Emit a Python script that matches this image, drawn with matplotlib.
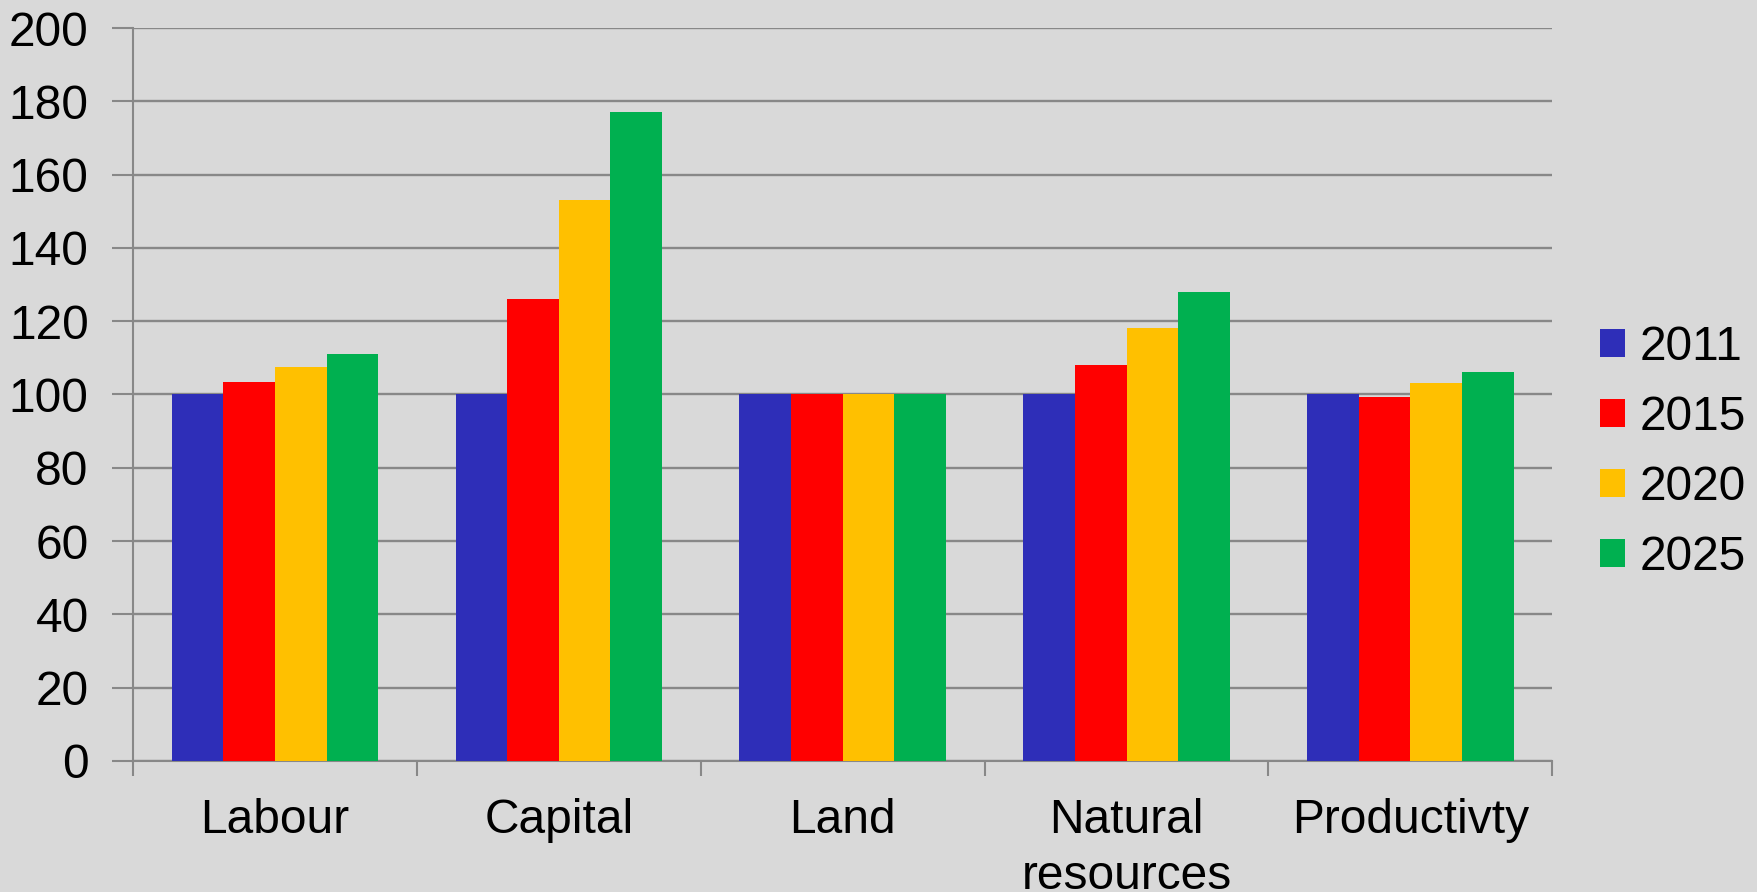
import matplotlib
matplotlib.use("Agg")
import matplotlib.pyplot as plt
import numpy as np

categories = ["Labour", "Capital", "Land", "Natural\nresources", "Productivty"]
series_names = ["2011", "2015", "2020", "2025"]
v2011 = [100, 100, 100, 100, 100]
v2015 = [103.5, 126, 100, 108, 99.3]
v2020 = [107.6, 153, 100, 118, 103]
v2025 = [111, 177, 100, 128, 106]
colors = ["#2E2EB8", "#FF0000", "#FFC000", "#00B050"]
yticks = [0, 20, 40, 60, 80, 100, 120, 140, 160, 180, 200]

plt.rcParams['font.family'] = ['Liberation Sans', 'DejaVu Sans']
bg = "#D9D9D9"
fs = 34.5
fig = plt.figure(figsize=(17.58, 8.92), dpi=100, facecolor=bg)
ax = fig.add_axes([0.0757, 0.147, 0.8073, 0.8216], facecolor=bg)

x = np.arange(len(categories))
w = 1 / 5.5
data = [v2011, v2015, v2020, v2025]
for i, (name, vals, c) in enumerate(zip(series_names, data, colors)):
    ax.bar(x + (i - 1.5) * w, vals, width=w, color=c, label=name, zorder=3)

ax.set_xlim(-0.5, len(categories) - 0.5)
ax.set_ylim(0, 200)
ax.set_yticks(yticks)
ax.set_yticklabels([str(t) for t in yticks])
ax.yaxis.grid(True, color="#888888", linewidth=1.7, zorder=0)
ax.set_axisbelow(True)

ax.set_xticks(x)
ax.set_xticklabels(categories, linespacing=1.3)
ax.set_xticks(np.arange(len(categories) + 1) - 0.5, minor=True)
ax.tick_params(axis='x', which='major', length=0, labelsize=fs, pad=27)
ax.tick_params(axis='x', which='minor', length=11, width=1.5, color="#888888")
ax.tick_params(axis='y', which='major', length=15, width=1.5, color="#888888",
               labelsize=fs, pad=17)
for lab in ax.get_xticklabels():
    lab.set_verticalalignment('top')

for s in ['top', 'right']:
    ax.spines[s].set_visible(False)
ax.spines['left'].set_color("#888888")
ax.spines['left'].set_linewidth(1.5)
ax.spines['bottom'].set_color("#888888")
ax.spines['bottom'].set_linewidth(1.5)

fig.legend(loc='center left', bbox_to_anchor=(0.910, 0.493), frameon=False,
           fontsize=fs, handlelength=0.52, handleheight=0.52, handletextpad=0.32,
           labelspacing=0.52, borderpad=0, borderaxespad=0)

fig.savefig("out.png", dpi=100, facecolor=bg)
